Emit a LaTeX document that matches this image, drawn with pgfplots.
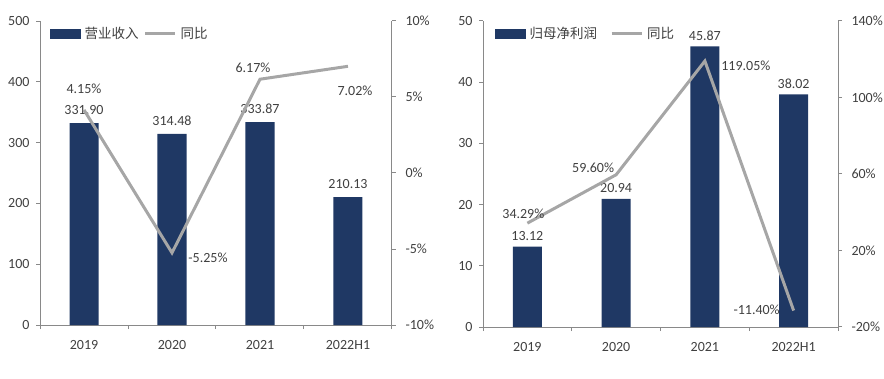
\documentclass[border=0pt]{standalone}
\usepackage{pgfplots}
\pgfplotsset{compat=1.18}
\usepackage{fontspec}
\setmainfont{Carlito}
\newfontfamily\cjk{Noto Sans CJK SC}
\definecolor{navy}{RGB}{31,56,100}
\definecolor{linegray}{RGB}{166,166,166}
\definecolor{axgray}{RGB}{137,137,137}
\definecolor{txt}{RGB}{64,64,64}
\pgfplotsset{
  base/.style={
    scale only axis, anchor=south west, clip=false,
    xmin=-0.5, xmax=3.5,
    axis line style={axgray, line width=1pt},
    tick style={axgray, line width=1pt},
    tick align=outside,
    major tick length=4pt, minor tick length=4pt,
    tick label style={font=\fontsize{14}{16}\selectfont, text=txt},
    every node near coord/.append style={font=\fontsize{14}{16}\selectfont, text=txt},
  },
  barax/.style={base,
    axis x line*=bottom, axis y line*=left,
    xtick={0,1,2,3}, xticklabels={2019,2020,2021,2022H1},
    major x tick style={draw=none},
    minor xtick={-0.5,0.5,1.5,2.5,3.5},
    xticklabel style={yshift=-8pt},
    yticklabel style={xshift=-3pt},
  },
  lineax/.style={base,
    axis x line=none, axis y line*=right,
    yticklabel style={xshift=6pt},
    legend style={draw=none, fill=none, at={(0,1)}, anchor=north west,
      legend columns=-1, font=\cjk\fontsize{13.5}{15}\selectfont\color{txt},
      inner xsep=0pt,
      nodes={inner xsep=2pt},
      /tikz/every odd column/.append style={column sep=2pt}},
  },
  barleg/.style={legend image code/.code={\fill[navy] (0pt,-4.5pt) rectangle (30pt,4.5pt);}},
  lineleg/.style={legend image code/.code={\draw[linegray, line width=3pt] (0pt,0pt) -- (30pt,0pt);}},
  barplot/.style={ybar, bar width=29pt, bar shift=0pt, fill=navy, draw=none,
    point meta=explicit symbolic, nodes near coords,
    every node near coord/.append style={anchor=center, yshift=#1}},
  lineplot/.style={linegray, line width=3pt, mark=none, sharp plot,
    point meta=explicit symbolic, nodes near coords={\pgfplotspointmeta\%},
    visualization depends on={value \thisrow{dx} \as \dx},
    visualization depends on={value \thisrow{dy} \as \dy},
    every node near coord/.append style={anchor=center, xshift=\dx pt, yshift=\dy pt}},
}
\begin{document}
\begin{tikzpicture}[x=1pt,y=1pt]
\useasboundingbox (0,0) rectangle (884,378);
% ---------- left panel ----------
\begin{axis}[barax, at={(40pt,53pt)}, width=352pt, height=304pt,
  ymin=0, ymax=500, ytick={0,100,200,300,400,500},
  yticklabels={0,100,200,300,400,500}]
\addplot[barplot=13pt] table[x=x,y=y,meta=lab] {
x y lab
0 331.90 331.90
1 314.48 314.48
2 333.87 333.87
3 210.13 210.13
};
\end{axis}
\begin{axis}[lineax, at={(40pt,53pt)}, width=352pt, height=304pt,
  ymin=-10, ymax=10, ytick={-10,-5,0,5,10},
  yticklabels={-10\%,-5\%,0\%,5\%,10\%},
  legend style={xshift=10pt, yshift=-2pt,
    /tikz/every even column/.append style={column sep=3pt}}]
\addlegendimage{barleg}
\addlegendentry{营业收入}
\addplot[lineplot, lineleg] table[x=x,y=y,meta=lab] {
x y lab dx dy
0 4.15 4.15 0 21
1 -5.25 -5.25 36 -5
2 6.17 6.17 -7 11
3 7.02 7.02 7 -24
};
\addlegendentry{同比}
\end{axis}
% ---------- right panel ----------
\begin{axis}[barax, at={(483pt,51pt)}, width=355pt, height=306pt,
  ymin=0, ymax=50, ytick={0,10,20,30,40,50},
  yticklabels={0,10,20,30,40,50}]
\addplot[barplot=11pt] table[x=x,y=y,meta=lab] {
x y lab
0 13.12 13.12
1 20.94 20.94
2 45.87 45.87
3 38.02 38.02
};
\end{axis}
\begin{axis}[lineax, at={(483pt,51pt)}, width=355pt, height=306pt,
  ymin=-20, ymax=140, ytick={-20,20,60,100,140},
  yticklabels={-20\%,20\%,60\%,100\%,140\%},
  legend style={xshift=12pt, yshift=-2pt,
    /tikz/every even column/.append style={column sep=11pt}}]
\addlegendimage{barleg}
\addlegendentry{归母净利润}
\addplot[lineplot, lineleg] table[x=x,y=y,meta=lab] {
x y lab dx dy
0 34.29 34.29 -4 9
1 59.60 59.60 -23 7
2 119.05 119.05 41 -5
3 -11.40 -11.40 -37 1
};
\addlegendentry{同比}
\end{axis}
\end{tikzpicture}
\end{document}
